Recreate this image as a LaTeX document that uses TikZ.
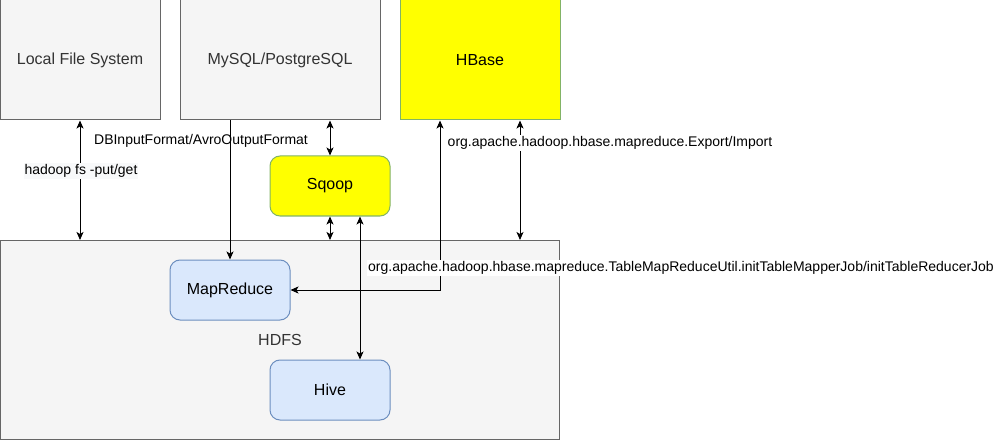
\documentclass[tikz,border=0pt]{standalone}
\usepackage{fontspec}
\setmainfont{Liberation Sans}
\usepackage{xcolor}
\definecolor{Gray-fill}{HTML}{F5F5F5}
\definecolor{Gray-line}{HTML}{666666}
\definecolor{Gray-text}{HTML}{333333}
\definecolor{Yellow-fill}{HTML}{FFFF00}
\definecolor{Green-line}{HTML}{82B366}
\definecolor{Blue-fill}{HTML}{DAE8FC}
\definecolor{Blue-line}{HTML}{6C8EBF}
\definecolor{Label-bg}{HTML}{F8F9FA}
\usetikzlibrary{arrows.meta,positioning,calc}

\begin{document}
\begin{tikzpicture} [ % styles first
            x=1pt, y=-1pt, line width=1pt, >={Stealth[length=8pt,width=7pt,inset=2pt]},
            store/.style = {rectangle, inner sep=0pt, minimum height=120pt, minimum width=160pt, fill=Gray-fill, draw=Gray-line, text=Gray-text, font=\fontsize{16}{19}\selectfont},
            hbox/.style = {store, fill=Yellow-fill, draw=Green-line, text=black},
            tool/.style = {rectangle, rounded corners=10pt, inner sep=0pt, minimum height=60pt, minimum width=120pt, fill=Blue-fill, draw=Blue-line, font=\fontsize{16}{19}\selectfont},
            tool-y/.style = {tool, fill=Yellow-fill, draw=Green-line},
            lbl/.style = {inner sep=1pt, font=\fontsize{14}{17}\selectfont}
        ]

        \useasboundingbox (0,0) rectangle (994,441);

        % sources on top
        \node [store] (lfs) at (80,60) {Local File System};
        \node [store, minimum width=200pt] (sql) at (280,60) {MySQL/PostgreSQL};
        \node [hbox] (hbase) at (480,60) {HBase};

        % HDFS container
        \node [store, minimum width=559pt, minimum height=199pt] (hdfs) at (280,340) {HDFS};

        % tools
        \node [tool-y] (sqoop) at (330,186) {Sqoop};
        \node [tool] (mr) at (230,290) {MapReduce};
        \node [tool] (hive) at (330,390) {Hive};

        % connectors
        \draw [<->] (lfs.south) -- (lfs.south |- hdfs.north);
        \draw [->] (sql.south -| mr.north) -- (mr.north);
        \draw [<->] (sql.south -| sqoop.north) -- (sqoop.north);
        \draw [<->] (sqoop.south) -- (sqoop.south |- hdfs.north);
        \draw [<->] ([xshift=30pt]sqoop.south) -- ([xshift=30pt]hive.north);
        \draw [<->] ([xshift=-40pt]hbase.south) |- (mr.east);
        \draw [<->] ([xshift=40pt]hbase.south) -- ([xshift=40pt]hbase.south |- hdfs.north);

        % labels
        \node [lbl, fill=Label-bg] (l-put) at (81,171) {hadoop fs -put/get};
        \node [lbl] (l-db) at (201,141) {DBInputFormat/AvroOutputFormat};
        \node [lbl, fill=white] (l-exp) at (610,143) {org.apache.hadoop.hbase.mapreduce.Export/Import};
        \node [lbl, fill=white] (l-tbl) at (681,268) {org.apache.hadoop.hbase.mapreduce.TableMapReduceUtil.initTableMapperJob/initTableReducerJob};

    \end{tikzpicture}
\end{document}
